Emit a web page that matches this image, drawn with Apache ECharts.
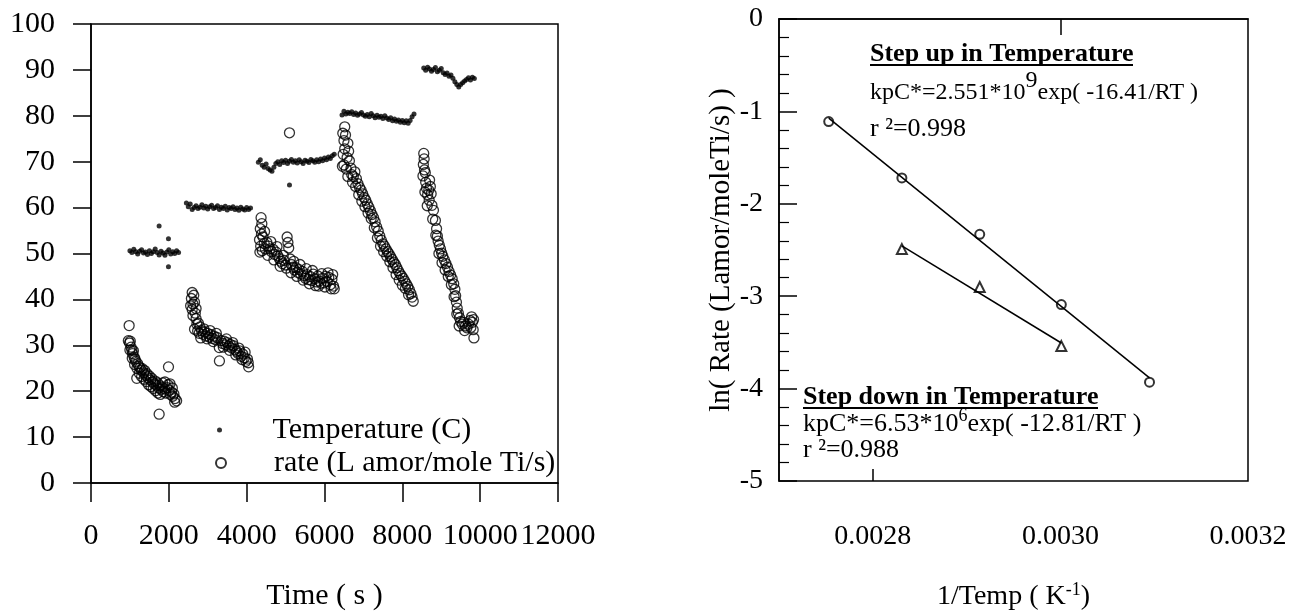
<!DOCTYPE html>
<html>
<head>
<meta charset="utf-8">
<script src="https://cdn.jsdelivr.net/npm/echarts@6/dist/echarts.min.js"></script>
<style>
  html, body { margin: 0; padding: 0; background: #fff; }
  #chart { width: 1291px; height: 616px; }
</style>
</head>
<body>
<div id="chart"></div>
<script>
// left panel: temperature (C) vs time (s)
const tempPoints = [
    [1000, 50.6], [1050, 50.2], [1100, 50.9], [1150, 50.4], [1200, 49.9], [1250, 50.5], [1300, 50.8],
    [1350, 50.1], [1400, 50.3], [1450, 49.8], [1500, 50.6], [1550, 50.0], [1600, 50.4], [1650, 51.0],
    [1700, 50.2], [1750, 49.7], [1800, 50.5], [1850, 50.1], [1900, 49.6], [1950, 50.3], [2000, 50.8],
    [2050, 49.9], [2100, 50.4], [2150, 50.0], [2200, 50.6], [2250, 50.2],
    [1750, 56.0], [1990, 53.2], [1990, 47.1],
    [2450, 61.0], [2500, 60.2], [2550, 60.8], [2600, 59.6], [2650, 60.0], [2700, 60.4], [2750, 59.8],
    [2800, 60.1], [2850, 60.6], [2900, 59.9], [2950, 60.3], [3000, 59.7], [3050, 60.2], [3100, 60.5],
    [3150, 59.8], [3200, 60.0], [3250, 60.4], [3300, 59.6], [3350, 60.1], [3400, 59.8], [3450, 60.3],
    [3500, 59.5], [3550, 60.0], [3600, 59.8], [3650, 60.2], [3700, 59.6], [3750, 59.9], [3800, 59.4],
    [3850, 60.1], [3900, 59.7], [3950, 59.5], [4000, 60.0], [4050, 59.6], [4100, 59.9],
    [4300, 69.9], [4350, 70.4], [4400, 69.2], [4450, 68.8], [4500, 69.5], [4550, 68.5], [4600, 68.2],
    [4650, 67.9], [4700, 68.8], [4750, 69.6], [4800, 70.0], [4850, 69.4], [4900, 70.2], [4950, 69.8],
    [5000, 70.3], [5050, 69.6], [5100, 70.1], [5150, 70.5], [5200, 69.9], [5250, 70.2], [5300, 69.7],
    [5350, 70.4], [5400, 70.0], [5450, 69.6], [5500, 70.3], [5550, 70.1], [5600, 69.8], [5650, 70.5],
    [5700, 70.2], [5750, 69.9], [5800, 70.4], [5850, 70.0], [5900, 70.6], [5950, 70.2], [6000, 70.8],
    [6050, 70.4], [6100, 71.0], [6150, 70.7], [6200, 71.3], [6250, 71.6],
    [5100, 64.9],
    [6450, 80.2], [6500, 81.0], [6550, 80.4], [6600, 80.8], [6650, 80.5], [6700, 80.9], [6750, 80.3],
    [6800, 80.6], [6850, 80.1], [6900, 80.4], [6950, 80.7], [7000, 80.2], [7050, 79.9], [7100, 80.3],
    [7150, 79.8], [7200, 80.5], [7250, 80.0], [7300, 79.6], [7350, 80.1], [7400, 79.7], [7450, 79.9],
    [7500, 79.4], [7550, 80.0], [7600, 79.5], [7650, 79.2], [7700, 79.6], [7750, 78.9], [7800, 79.3],
    [7850, 78.8], [7900, 79.1], [7950, 78.6], [8000, 79.0], [8050, 78.5], [8100, 78.9], [8150, 78.4],
    [8200, 79.0], [8250, 79.8], [8300, 80.4],
    [8550, 90.4], [8600, 89.9], [8650, 90.6], [8700, 90.2], [8750, 89.7], [8800, 90.1], [8850, 90.5],
    [8900, 89.6], [8950, 89.9], [9000, 90.3], [9050, 89.4], [9100, 89.0], [9150, 89.3], [9200, 88.6],
    [9250, 88.9], [9300, 88.2], [9350, 87.4], [9400, 86.8], [9450, 86.3], [9500, 86.8], [9550, 87.2],
    [9600, 87.6], [9650, 87.9], [9700, 88.3], [9750, 87.8], [9800, 88.4], [9850, 88.1],
];

// left panel: rate (L amor/mole Ti/s) vs time (s)
const ratePoints = [
    [980, 34.3], [960, 31.0], [990, 30.5], [1010, 30.9], [1030, 29.6], [1050, 29.0], [1070, 28.2],
    [1090, 28.8], [1110, 27.4], [1130, 27.0], [1150, 26.5], [1176, 22.8], [1200, 26.0], [1230, 25.4],
    [1260, 25.1], [1290, 24.6], [1320, 24.9], [1350, 24.0], [1380, 24.5], [1410, 23.5], [1440, 23.8],
    [1470, 22.9], [1500, 23.3], [1530, 22.4], [1560, 22.8], [1590, 22.0], [1620, 21.6], [1650, 22.2],
    [1680, 21.3], [1710, 21.8], [1751, 15.0], [1740, 20.7], [1770, 21.2], [1800, 20.4], [1830, 20.9],
    [1860, 19.9], [1890, 20.5], [1920, 19.6], [1950, 20.8], [1991, 25.3], [1980, 21.4], [2010, 20.2],
    [2040, 19.3], [2070, 19.8], [2100, 18.9], [2130, 19.4], [2160, 18.4], [2200, 17.9],
    [1000, 29.0], [1060, 27.2], [1120, 25.8], [1180, 25.0], [1240, 23.9], [1300, 23.2], [1360, 22.6],
    [1420, 22.1], [1480, 21.4], [1540, 21.0], [1600, 20.6], [1660, 20.1], [1720, 19.6], [1780, 19.3],
    [1840, 21.8], [1900, 22.0], [2030, 21.6], [2090, 20.7], [2150, 17.6],
    [2600, 41.5], [2640, 40.9], [2580, 40.2], [2560, 38.6], [2600, 37.8], [2620, 36.5], [2660, 39.4],
    [2680, 37.0], [2700, 35.8], [2720, 34.6], [2660, 33.5], [2740, 33.1], [2780, 32.6], [2800, 34.0],
    [2840, 33.2], [2880, 32.4], [2920, 32.9], [2960, 32.0], [3000, 32.6], [3040, 31.8], [3080, 32.3],
    [3120, 31.5], [3160, 32.0], [3200, 31.2], [3240, 31.7], [3296, 29.5], [3300, 26.6], [3340, 31.0],
    [3380, 30.4], [3420, 30.9], [3460, 30.1], [3500, 30.6], [3540, 29.8], [3580, 30.2], [3620, 29.4],
    [3660, 29.9], [3700, 29.1], [3740, 28.7], [3780, 28.2], [3820, 28.8], [3860, 27.6], [3900, 28.1],
    [3940, 27.3], [3980, 26.5], [4020, 27.0], [4050, 25.3],
    [2620, 39.0], [2700, 38.0], [2760, 34.8], [2820, 31.6], [2900, 33.6], [2980, 31.4], [3060, 33.2],
    [3140, 30.8], [3220, 32.6], [3400, 29.6], [3480, 31.4], [3560, 28.9], [3640, 30.6], [3720, 27.9],
    [3800, 29.4], [3880, 26.9], [3960, 28.5], [4040, 26.2],
    [4370, 57.8], [4390, 56.5], [4350, 55.4], [4380, 54.2], [4330, 53.0], [4360, 51.6], [4340, 50.3],
    [4420, 53.6], [4450, 52.2], [4480, 51.0], [4520, 52.4], [4560, 51.6], [4600, 51.0], [4640, 50.4],
    [4680, 50.9], [4720, 49.8], [4760, 50.3], [4800, 49.5], [5040, 53.6], [5060, 52.4], [5080, 51.2],
    [4840, 48.9], [4880, 48.3], [4920, 47.8], [4960, 48.5], [5000, 47.5], [5100, 76.3], [5120, 48.8],
    [5150, 47.6], [5190, 47.0], [5230, 46.4], [5270, 46.9], [5310, 45.9], [5350, 46.5], [5390, 45.5],
    [5430, 46.1], [5470, 45.2], [5510, 44.6], [5550, 45.4], [5590, 44.3], [5630, 45.0], [5670, 44.1],
    [5710, 45.5], [5750, 44.5], [5790, 43.8], [5830, 45.1], [5870, 44.0], [5910, 43.5], [5950, 44.6],
    [5990, 43.6], [6030, 45.0], [6070, 43.9], [6110, 44.8], [6150, 43.2], [6190, 44.4], [6230, 42.9],
    [6250, 42.3],
    [4400, 50.6], [4460, 54.8], [4540, 49.6], [4620, 52.6], [4700, 48.6], [4780, 51.5], [4860, 47.2],
    [4940, 49.6], [5020, 46.8], [5140, 45.8], [5210, 48.3], [5290, 45.0], [5370, 47.6], [5450, 44.2],
    [5530, 46.7], [5610, 43.4], [5690, 46.3], [5770, 43.0], [5850, 42.9], [5930, 45.6], [6010, 42.7],
    [6090, 45.8], [6170, 42.3], [6210, 45.4],
    [6520, 77.6], [6540, 75.8], [6500, 74.6], [6520, 72.8], [6480, 71.6], [6600, 74.0], [6620, 72.3],
    [6580, 70.9], [6500, 69.3], [6560, 68.4], [6640, 70.2], [6680, 68.6], [6700, 67.2], [6740, 66.8],
    [6780, 67.8], [6820, 66.3], [6860, 65.2], [6900, 64.4], [6940, 63.8], [6980, 63.0], [7020, 62.2],
    [7060, 61.6], [7100, 60.8], [7140, 60.1], [7180, 59.3], [7220, 58.5], [7260, 57.8], [7300, 56.9],
    [7340, 55.8], [7380, 54.9], [7420, 53.8], [7460, 52.9], [7500, 52.1], [7540, 51.6], [7580, 51.0],
    [7620, 50.4], [7660, 49.9], [7700, 49.3], [7740, 48.7], [7780, 48.1], [7820, 47.6], [7860, 46.9],
    [7900, 46.2], [7940, 45.6], [7980, 45.1], [8020, 44.6], [8060, 44.0], [8100, 43.4], [8140, 42.8],
    [8180, 42.1], [8220, 41.3], [8250, 40.5], [8280, 39.6],
    [6460, 69.0], [6470, 76.2], [6600, 66.8], [6720, 65.5], [6800, 64.6], [6880, 62.8], [6960, 61.4],
    [7040, 60.2], [7120, 58.8], [7200, 57.6], [7280, 55.6], [7360, 53.4], [7440, 51.6], [7520, 50.4],
    [7600, 49.4], [7680, 48.2], [7760, 46.9], [7840, 45.4], [7920, 44.2], [8000, 43.1], [8080, 42.4],
    [8160, 41.0],
    [8550, 71.8], [8560, 70.6], [8540, 69.4], [8570, 68.2], [8530, 66.9], [8600, 65.5], [8620, 64.2],
    [8580, 63.4], [8650, 62.8], [8700, 66.0], [8720, 64.6], [8740, 63.0], [8690, 61.6], [8760, 60.5],
    [8800, 59.4], [8850, 57.2], [8880, 55.4], [8900, 53.8], [8920, 52.7], [8950, 51.8], [8980, 51.0],
    [9010, 50.1], [9040, 49.4], [9080, 48.6], [9120, 47.8], [9160, 47.0], [9200, 46.1], [9240, 45.3],
    [9280, 44.5], [9320, 43.4], [9350, 42.2], [9370, 40.8], [9390, 39.4], [9410, 38.1], [9440, 37.0],
    [9470, 36.0], [9500, 35.2], [9540, 34.6], [9580, 35.0], [9620, 34.2], [9660, 33.8], [9700, 34.6],
    [9740, 35.4], [9780, 36.2], [9800, 35.0], [9820, 33.4], [9840, 31.6],
    [8590, 67.6], [8640, 60.4], [8680, 63.8], [8780, 57.5], [8860, 54.0], [8940, 50.0], [9020, 48.0],
    [9100, 46.4], [9180, 45.0], [9260, 43.2], [9330, 40.6], [9400, 36.8], [9460, 34.2], [9600, 33.2],
    [9760, 33.9], [9830, 35.6],
];

// right panel: Arrhenius plot
const invTempUp = [0.002753, 0.002831, 0.002914, 0.003001, 0.003095];
const lnRateUp = [-1.11, -1.72, -2.33, -3.09, -3.93];
const invTempDown = [0.002831, 0.002914, 0.003001];
const lnRateDown = [-2.49, -2.90, -3.54];
const invTempLabels = [0.0028, 0.0030, 0.0032];

const serif = "'Liberation Serif', 'DejaVu Serif', serif";

// least-squares line through the points, drawn between first and last x
function fitLine(xs, ys) {
    const n = xs.length;
    const mx = xs.reduce((a, b) => a + b, 0) / n;
    const my = ys.reduce((a, b) => a + b, 0) / n;
    let sxy = 0, sxx = 0;
    for (let i = 0; i < n; i++) {
        sxy += (xs[i] - mx) * (ys[i] - my);
        sxx += (xs[i] - mx) * (xs[i] - mx);
    }
    const b = sxy / sxx;
    const a = my - b * mx;
    return [[xs[0], a + b * xs[0]], [xs[n - 1], a + b * xs[n - 1]]];
}

const zip = (xs, ys) => xs.map((x, i) => [x, ys[i]]);

const axisLine = { lineStyle: { color: "#000", width: 1.5 } };
const labelStyle = (size) => ({ color: "#000", fontFamily: serif, fontSize: size });
const ringStyle = { color: "rgba(0,0,0,0)", borderColor: "#000", borderWidth: 1.3 };

const chart = echarts.init(document.getElementById("chart"));
chart.setOption({
    animation: false,
    backgroundColor: "#fff",
    grid: [
        { left: 91, right: 733, top: 24, bottom: 127, show: true, borderColor: "#000", borderWidth: 1.5 },
        { left: 779, right: 43, top: 19, bottom: 131, show: true, borderColor: "#000", borderWidth: 1.5 },
    ],
    legend: [
        {
            data: ["Temperature (C)"],
            left: 212, top: 410,
            itemWidth: 96, itemHeight: 5,
            selectedMode: false,
            textStyle: labelStyle(30),
        },
        {
            data: ["rate (L amor/mole Ti/s)"],
            left: 210, top: 443,
            itemWidth: 96, itemHeight: 10,
            selectedMode: false,
            textStyle: labelStyle(30),
        },
    ],
    xAxis: [
        {
            gridIndex: 0, type: "value", min: 0, max: 12000, interval: 2000,
            name: "Time ( s )", nameLocation: "middle", nameGap: 98,
            nameTextStyle: labelStyle(30),
            axisLine: axisLine,
            axisTick: { length: 19, lineStyle: { color: "#000", width: 1.5 } },
            axisLabel: {
                ...labelStyle(30), margin: 38,
                showMinLabel: true, showMaxLabel: true,
                formatter: (v) => String(v),
            },
            splitLine: { show: false },
        },
        {
            gridIndex: 1, type: "value", min: 0.0027, max: 0.0032,
            name: "1/Temp ( K{sup|-1})", nameLocation: "middle", nameGap: 100,
            nameTextStyle: {
                ...labelStyle(28),
                rich: { sup: { fontFamily: serif, fontSize: 18, color: "#000", padding: [0, 0, 14, 0] } },
            },
            axisLine: axisLine,
            axisTick: { length: 16, customValues: [0.0030], lineStyle: { color: "#000", width: 1.5 } },
            axisLabel: {
                ...labelStyle(28), margin: 42,
                customValues: invTempLabels,
                formatter: (v) => v.toFixed(4),
            },
            splitLine: { show: false },
        },
        {
            gridIndex: 1, type: "value", min: 0.0027, max: 0.0032, position: "bottom",
            axisLine: { show: false },
            axisTick: { inside: true, length: 12, customValues: [0.0028], lineStyle: { color: "#000", width: 1.5 } },
            axisLabel: { show: false },
            splitLine: { show: false },
        },
    ],
    yAxis: [
        {
            gridIndex: 0, type: "value", min: 0, max: 100, interval: 10,
            axisLine: { show: true, ...axisLine },
            axisTick: { show: true, length: 18, lineStyle: { color: "#000", width: 1.5 } },
            axisLabel: { ...labelStyle(30), margin: 36 },
            splitLine: { show: false },
        },
        {
            gridIndex: 1, type: "value", min: -5, max: 0, interval: 1,
            name: "ln( Rate (Lamor/moleTi/s) )", nameLocation: "middle", nameGap: 42,
            nameTextStyle: labelStyle(29),
            axisLine: { show: true, ...axisLine },
            axisTick: { show: true, inside: true, length: 18, lineStyle: { color: "#000", width: 1.5 } },
            minorTick: { show: true, splitNumber: 5, length: 10, lineStyle: { color: "#000", width: 1.2 } },
            axisLabel: { ...labelStyle(28), margin: 16 },
            splitLine: { show: false },
        },
    ],
    series: [
        {
            name: "Temperature (C)",
            type: "scatter", xAxisIndex: 0, yAxisIndex: 0,
            symbol: "circle", symbolSize: 5,
            itemStyle: { color: "#000" },
            data: tempPoints,
        },
        {
            name: "rate (L amor/mole Ti/s)",
            type: "scatter", xAxisIndex: 0, yAxisIndex: 0,
            symbol: "circle", symbolSize: 10,
            itemStyle: ringStyle,
            data: ratePoints,
        },
        {
            type: "line", xAxisIndex: 1, yAxisIndex: 1,
            showSymbol: false, silent: true,
            lineStyle: { color: "#000", width: 1.5 },
            data: fitLine(invTempUp, lnRateUp),
        },
        {
            type: "line", xAxisIndex: 1, yAxisIndex: 1,
            showSymbol: false, silent: true,
            lineStyle: { color: "#000", width: 1.5 },
            data: fitLine(invTempDown, lnRateDown),
        },
        {
            type: "scatter", xAxisIndex: 1, yAxisIndex: 1,
            symbol: "emptyCircle", symbolSize: 9,
            itemStyle: { color: "#000", borderWidth: 1.3 },
            data: zip(invTempUp, lnRateUp),
        },
        {
            type: "scatter", xAxisIndex: 1, yAxisIndex: 1,
            symbol: "emptyTriangle", symbolSize: 10,
            itemStyle: { color: "#000", borderWidth: 1.3 },
            data: zip(invTempDown, lnRateDown),
        },
    ],
    graphic: [
        {
            type: "text", left: 870, top: 41,
            style: { text: "Step up in Temperature", fill: "#000", font: "bold 26px " + serif },
        },
        { type: "line", shape: { x1: 870, y1: 65, x2: 1133, y2: 65 }, style: { stroke: "#000", lineWidth: 2 } },
        {
            type: "text", left: 870, top: 69,
            style: {
                text: "{a|kpC*=2.551*10}{s|9}{a|exp( -16.41/RT )}",
                rich: {
                    a: { fontFamily: serif, fontSize: 24, fill: "#000", verticalAlign: "bottom" },
                    s: { fontFamily: serif, fontSize: 24, fill: "#000", verticalAlign: "bottom", padding: [0, 0, 12, 0] },
                },
            },
        },
        {
            type: "text", left: 870, top: 116,
            style: { text: "r \u00b2=0.998", fill: "#000", font: "26px " + serif },
        },
        {
            type: "text", left: 803, top: 384,
            style: { text: "Step down in Temperature", fill: "#000", font: "bold 26px " + serif },
        },
        { type: "line", shape: { x1: 803, y1: 408, x2: 1098, y2: 408 }, style: { stroke: "#000", lineWidth: 2 } },
        {
            type: "text", left: 803, top: 407,
            style: {
                text: "{a|kpC*=6.53*10}{s|6}{a|exp( -12.81/RT )}",
                rich: {
                    a: { fontFamily: serif, fontSize: 26, fill: "#000", verticalAlign: "bottom" },
                    s: { fontFamily: serif, fontSize: 18, fill: "#000", verticalAlign: "bottom", padding: [0, 0, 12, 0] },
                },
            },
        },
        {
            type: "text", left: 803, top: 437,
            style: { text: "r \u00b2=0.988", fill: "#000", font: "26px " + serif },
        },
    ],
});
</script>
</body>
</html>
